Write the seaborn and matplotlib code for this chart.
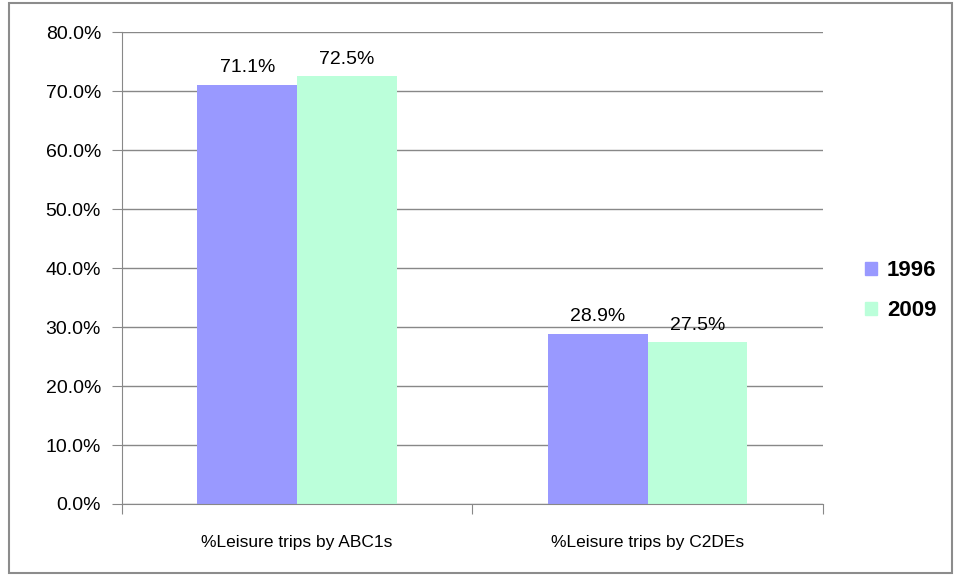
import matplotlib
matplotlib.use('Agg')
import matplotlib.pyplot as plt
import matplotlib.patches as mpatches
from matplotlib.ticker import FuncFormatter, MultipleLocator
import seaborn as sns
import pandas as pd

# data
categories = ['%Leisure trips by ABC1s', '%Leisure trips by C2DEs']
years = ['1996', '2009']
values_1996 = [71.1, 28.9]
values_2009 = [72.5, 27.5]
colors = ['#9999FF', '#BBFFDA']

df = pd.DataFrame({
    'category': categories * 2,
    'year': [years[0]] * 2 + [years[1]] * 2,
    'value': values_1996 + values_2009,
})

sns.set_style('white')
plt.rcParams['font.family'] = ['Liberation Sans', 'DejaVu Sans']
plt.rcParams['text.color'] = 'black'
plt.rcParams['xtick.color'] = 'black'
plt.rcParams['ytick.color'] = 'black'

fig = plt.figure(figsize=(9.6, 5.76), dpi=100)
ax = fig.add_axes([0.127, 0.125, 0.73, 0.819])

sns.barplot(data=df, x='category', y='value', hue='year', palette=colors,
            width=0.57, saturation=1, linewidth=0, ax=ax, legend=False)

# data labels
for cont in ax.containers:
    ax.bar_label(cont, labels=[f'{v:.1f}%' for v in cont.datavalues],
                 padding=6, fontsize=14, color='black')

ax.set_ylim(0, 80)
ax.set_xlim(-0.5, 1.5)
ax.yaxis.set_major_locator(MultipleLocator(10))
ax.yaxis.set_major_formatter(FuncFormatter(lambda v, p: f'{v:.1f}%'))
ax.grid(axis='y', color='#888888', linewidth=1)
ax.set_axisbelow(True)
ax.set_xlabel('')
ax.set_ylabel('')

for s in ['top', 'right']:
    ax.spines[s].set_visible(False)
ax.spines['left'].set_color('#888888')
ax.spines['bottom'].set_color('#888888')

# category separator ticks on x axis
ax.set_xticks([-0.5, 0.5, 1.5], minor=False)
ax.set_xticklabels([])
ax.set_xticks([0, 1], minor=True)
ax.set_xticklabels(categories, minor=True, fontsize=12.5)
ax.tick_params(axis='x', which='major', length=7, color='#888888', direction='out', bottom=True)
ax.tick_params(axis='x', which='minor', length=0, pad=22, labelcolor='black')
ax.tick_params(axis='y', length=7, color='#888888', direction='out', left=True,
               labelsize=14, pad=8, labelcolor='black')

# legend
handles = [mpatches.Patch(color=c, label=y) for c, y in zip(colors, years)]
leg = fig.legend(handles=handles, loc='center left', bbox_to_anchor=(0.88, 0.495),
                 frameon=False, prop={'weight': 'bold', 'size': 16},
                 handlelength=0.55, handleheight=0.55, handletextpad=0.45, labelspacing=0.85)
for t in leg.get_texts():
    t.set_color('black')

# outer border
fig.patches.append(mpatches.Rectangle((0.009, 0.005), 0.983, 0.99, transform=fig.transFigure,
                                      fill=False, edgecolor='#8c8c8c', linewidth=1.5))

fig.savefig('out.png', dpi=100)
